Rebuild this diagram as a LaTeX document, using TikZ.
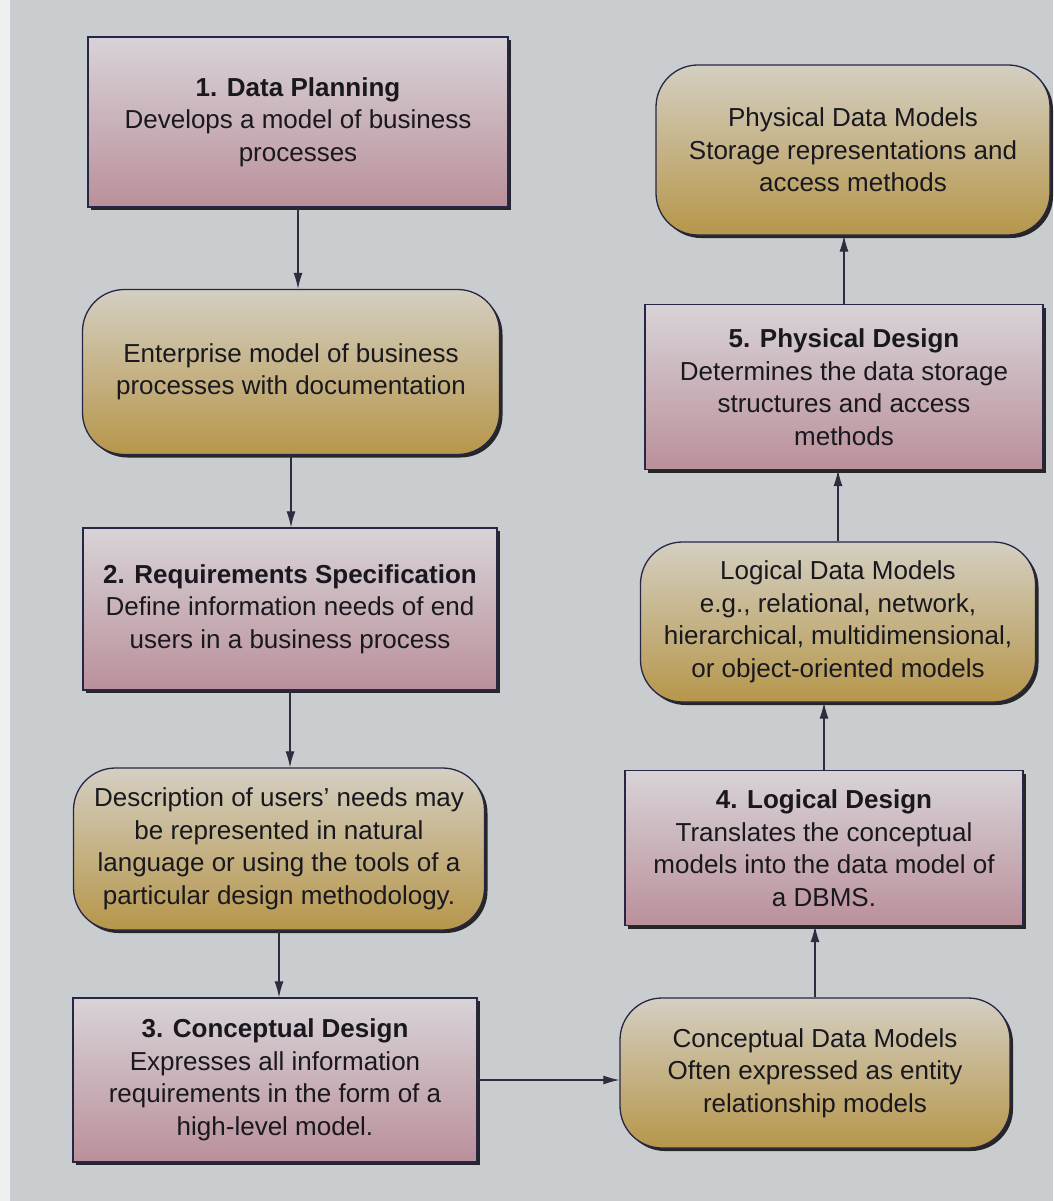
\documentclass[tikz,border=0pt]{standalone}
\usepackage{fontspec}
\setmainfont{Liberation Sans}
\usetikzlibrary{shadows,arrows.meta}

\definecolor{pagegray}{RGB}{201,205,208}
\definecolor{stripwhite}{RGB}{238,240,240}
\definecolor{edge}{RGB}{40,38,70}
\definecolor{ink}{RGB}{24,24,30}
\definecolor{rtop}{RGB}{216,211,216}
\definecolor{rbot}{RGB}{186,144,154}
\definecolor{ytop}{RGB}{212,207,194}
\definecolor{ybot}{RGB}{182,150,74}
\definecolor{wire}{RGB}{45,45,62}

\tikzset{
  box/.style={draw=edge, line width=1.3pt, align=center, text=ink,
    inner sep=0pt, font=\fontsize{26}{32.5}\selectfont,
    drop shadow={shadow xshift=3pt, shadow yshift=-3pt, fill=black!85, opacity=1}},
  task/.style={box, rectangle, top color=rtop, bottom color=rbot},
  datamodel/.style={box, rounded corners=42pt, top color=ytop, bottom color=ybot},
  conn/.style={draw=wire, line width=1.2pt, -{Latex[length=16pt,width=9pt]}}
}

\begin{document}
\begin{tikzpicture}[x=1pt,y=-1pt]
% page background
\fill[pagegray] (0,0) rectangle (1053,1201);
\fill[stripwhite] (0,0) rectangle (10,1201);
\useasboundingbox (0,0) rectangle (1053,1201);

% left column
\node[task, minimum width=420pt, minimum height=170pt] (plan) at (298,122)
  {\textbf{1. Data Planning}\\Develops a model of business\\processes};
\node[datamodel, minimum width=417pt, minimum height=165pt] (ent) at (291,372)
  {Enterprise model of business\\processes with documentation};
\node[task, minimum width=414pt, minimum height=162pt] (req) at (290,609)
  {\textbf{2. Requirements Specification}\\Define information needs of end\\users in a business process};
\node[datamodel, minimum width=411pt, minimum height=162pt] (desc) at (279,849)
  {Description of users’ needs may\\be represented in natural\\language or using the tools of a\\particular design methodology.};
\node[task, minimum width=404pt, minimum height=164pt] (concept) at (275,1080)
  {\textbf{3. Conceptual Design}\\Expresses all information\\requirements in the form of a\\high-level model.};

% right column
\node[datamodel, minimum width=390pt, minimum height=150pt] (cdm) at (815,1073)
  {Conceptual Data Models\\Often expressed as entity\\relationship models};
\node[task, minimum width=398pt, minimum height=155pt] (logd) at (824,848)
  {\textbf{4. Logical Design}\\Translates the conceptual\\models into the data model of\\a DBMS.};
\node[datamodel, minimum width=395pt, minimum height=160pt] (ldm) at (838,622)
  {Logical Data Models\\e.g., relational, network,\\hierarchical, multidimensional,\\or object-oriented models};
\node[task, minimum width=398pt, minimum height=165pt] (physd) at (844,387)
  {\textbf{5. Physical Design}\\Determines the data storage\\structures and access\\methods};
\node[datamodel, minimum width=394pt, minimum height=170pt] (pdm) at (853,150)
  {Physical Data Models\\Storage representations and\\access methods};

% connectors
\draw[conn] (plan.south) -- (plan.south |- ent.north);
\draw[conn] (ent.south) -- (ent.south |- req.north);
\draw[conn] (req.south) -- (req.south |- desc.north);
\draw[conn] (desc.south) -- (desc.south |- concept.north);
\draw[conn] (concept.east) -- (concept.east -| cdm.west);
\draw[conn] (cdm.north) -- (cdm.north |- logd.south);
\draw[conn] (logd.north) -- (logd.north |- ldm.south);
\draw[conn] (ldm.north) -- (ldm.north |- physd.south);
\draw[conn] (physd.north) -- (physd.north |- pdm.south);
\end{tikzpicture}
\end{document}
